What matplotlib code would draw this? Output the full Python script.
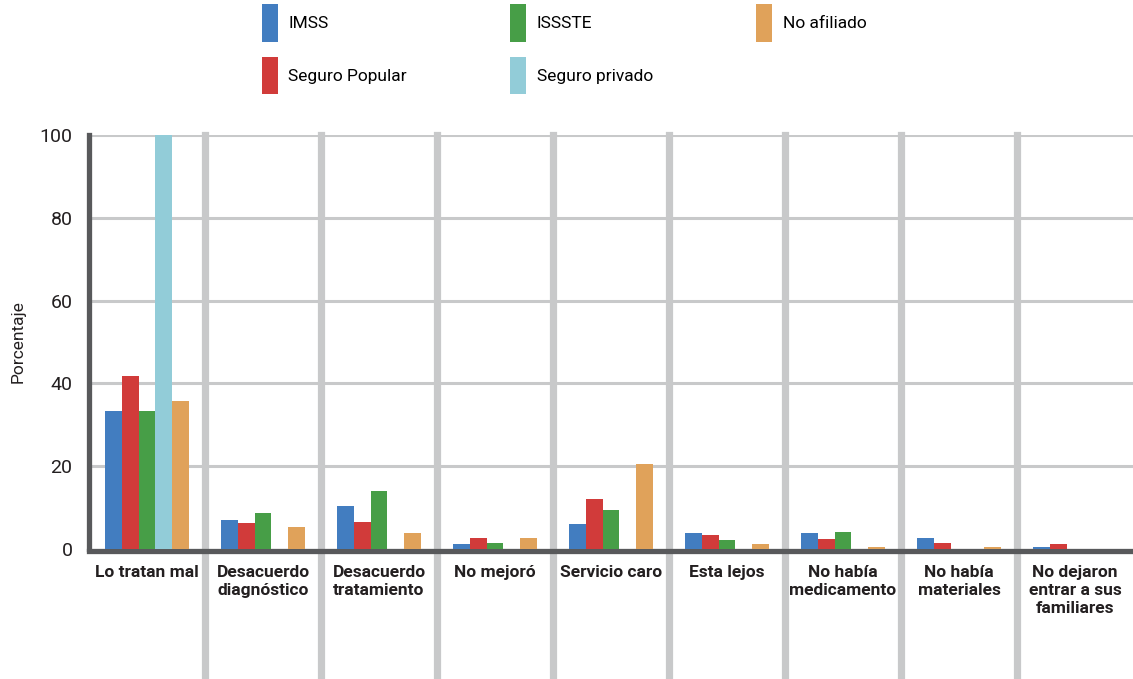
import numpy as np
import matplotlib
matplotlib.use("Agg")
import matplotlib.pyplot as plt

plt.rcParams['font.family'] = ['Roboto', 'DejaVu Sans']

categorias = ['Lo tratan mal', 'Desacuerdo\ndiagnóstico', 'Desacuerdo\ntratamiento',
              'No mejoró', 'Servicio caro', 'Esta lejos', 'No había\nmedicamento',
              'No había\nmateriales', 'No dejaron\nentrar a sus\nfamiliares']
series = ['IMSS', 'Seguro Popular', 'ISSSTE', 'Seguro privado', 'No afiliado']
imss = [33.3, 6.9, 10.3, 1.1, 5.9, 3.7, 3.7, 2.5, 0.4]
seguro_popular = [41.7, 6.2, 6.4, 2.5, 12.0, 3.2, 2.3, 1.3, 1.1]
issste = [33.3, 8.6, 13.9, 1.3, 9.3, 2.1, 4.0, 0, 0]
seguro_privado = [100, 0, 0, 0, 0, 0, 0, 0, 0]
no_afiliado = [35.7, 5.2, 3.7, 2.5, 20.4, 1.1, 0.4, 0.4, 0]
colores = ['#427dc0', '#d13b3a', '#479e47', '#92ccd8', '#e0a25a']

valores = [imss, seguro_popular, issste, seguro_privado, no_afiliado]

fig = plt.figure(figsize=(11.33, 6.79), dpi=100)
ax = fig.add_axes([0.0786, 0.192, 0.9214, 0.609])

x = np.arange(len(categorias)) + 0.5
w = 0.144
for j, (nombre, vals) in enumerate(zip(series, valores)):
    ax.bar(x + (j - 2) * w, vals, width=w, color=colores[j], label=nombre, zorder=5)

ax.set_xlim(0, len(categorias))
ax.set_ylim(0, 100)
ax.set_yticks([0, 20, 40, 60, 80, 100])

# horizontal grid
for yv in [20, 40, 60, 80, 100]:
    ax.axhline(yv, color='#c8c9ca', lw=2.2, zorder=1)
# vertical separators reaching the bottom of the figure
for xv in range(1, len(categorias)):
    ax.axvline(xv, ymin=-0.32, ymax=1, color='#c8c9ca', lw=5.2, zorder=2, clip_on=False)

for s in ['top', 'right']:
    ax.spines[s].set_visible(False)
for s in ['left', 'bottom']:
    ax.spines[s].set_color('#58595b')
    ax.spines[s].set_linewidth(3.8)
    ax.spines[s].set_zorder(4)
ax.spines['bottom'].set_position(('outward', 2))

ax.set_xticks(x)
ax.set_xticklabels(categorias, fontsize=12.5, fontweight='bold', color='#231f20', linespacing=1.25)
ax.tick_params(axis='x', length=0, pad=10)
ax.tick_params(axis='y', length=0, pad=12, labelsize=14, labelcolor='#231f20')
ax.set_ylabel('Porcentaje', fontsize=12.5, color='#231f20', labelpad=10)

fig.legend(loc='upper left', bbox_to_anchor=(0.2273, 1.0), ncol=3, frameon=False,
           fontsize=12.5, handlelength=0.92, handleheight=2.95, handletextpad=0.6,
           columnspacing=5.95, labelspacing=0.85, borderaxespad=0.0, borderpad=0.25)

fig.savefig('out.png', dpi=100)
